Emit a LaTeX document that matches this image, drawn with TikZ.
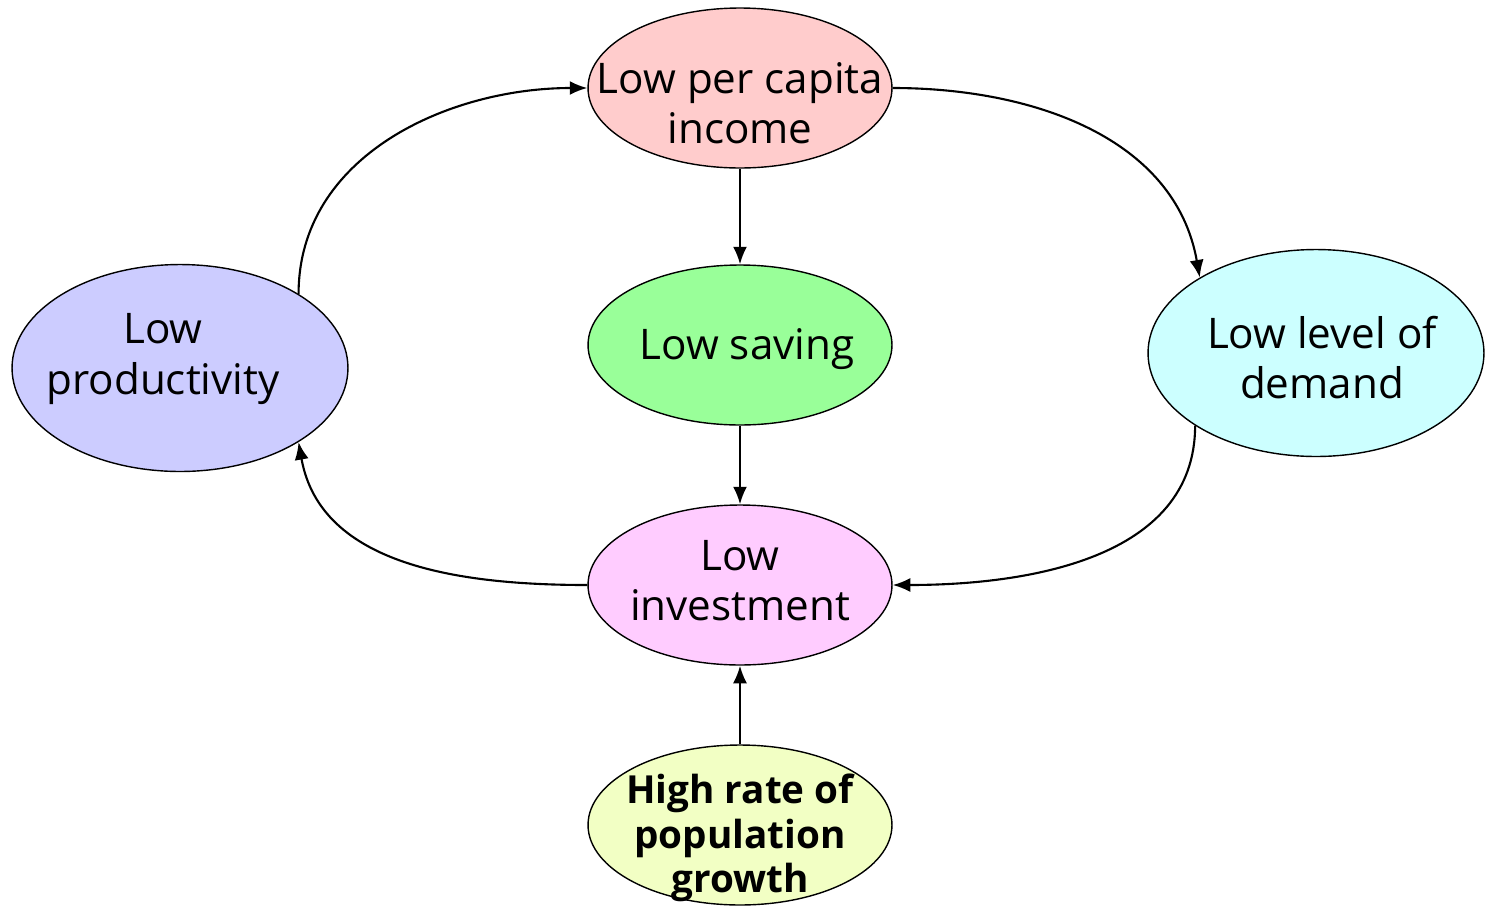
\documentclass[tikz,border=0pt]{standalone}
\usepackage{fontspec}
\setmainfont{Open Sans}
\usepackage{tikz}
\usetikzlibrary{arrows.meta, shapes.geometric, calc}
\definecolor{cincome}{HTML}{FFCCCC}
\definecolor{csaving}{HTML}{99FF99}
\definecolor{cprod}{HTML}{CCCCFF}
\definecolor{cdemand}{HTML}{CCFFFF}
\definecolor{cinvest}{HTML}{FFCCFF}
\definecolor{cpop}{HTML}{F2FFC4}

\begin{document}
\begin{tikzpicture}[
    x=0.02cm, y=-0.02cm,
    oval/.style={ellipse, draw=black, line width=0.8pt, inner sep=0pt},
    small/.style={oval, minimum width=6.08cm, minimum height=3.2cm},
    big/.style={oval, minimum width=6.72cm, minimum height=4.14cm},
    txt/.style={align=center, font=\fontsize{24}{28.5}\selectfont},
    arr/.style={-{Latex[length=10pt,width=8pt]}, line width=1.2pt, black},
  ]
  \useasboundingbox (0,0) rectangle (1485,907);

  \node[small, fill=cincome] (inc) at (740, 88) {};
  \node[txt] (inctxt) at (740, 103) {Low per capita\\income};

  \node[small, fill=csaving] (sav) at (740, 345) {};
  \node[txt] (savtxt) at (747, 349) {Low saving};

  \node[small, fill=cinvest] (inv) at (740, 585) {};
  \node[txt] (invtxt) at (740, 581) {Low\\investment};

  \node[small, fill=cpop] (pop) at (740, 825) {};
  \node[txt, font=\fontsize{22}{25.5}\selectfont\bfseries] (poptxt) at (740, 838) {High rate of\\population\\growth};

  \node[big, fill=cprod] (prod) at (180, 368) {};
  \node[txt] (prodtxt) at (163, 359) {Low\\productivity};

  \node[big, fill=cdemand] (dem) at (1316, 353) {};
  \node[txt] (demtxt) at (1322, 358) {Low level of\\demand};

  \draw[arr] (inc) -- (sav);
  \draw[arr] (sav) -- (inv);
  \draw[arr] (pop) -- (inv);

  \draw[arr] (prod.32) to[out=90, in=180] (inc.west);
  \draw[arr] (inc.east) to[out=0, in=100] (dem.147);
  \draw[arr] (dem.211) to[out=-90, in=0] (inv.east);
  \draw[arr] (inv.west) to[out=180, in=-80] (prod.-32);

\end{tikzpicture}
\end{document}
